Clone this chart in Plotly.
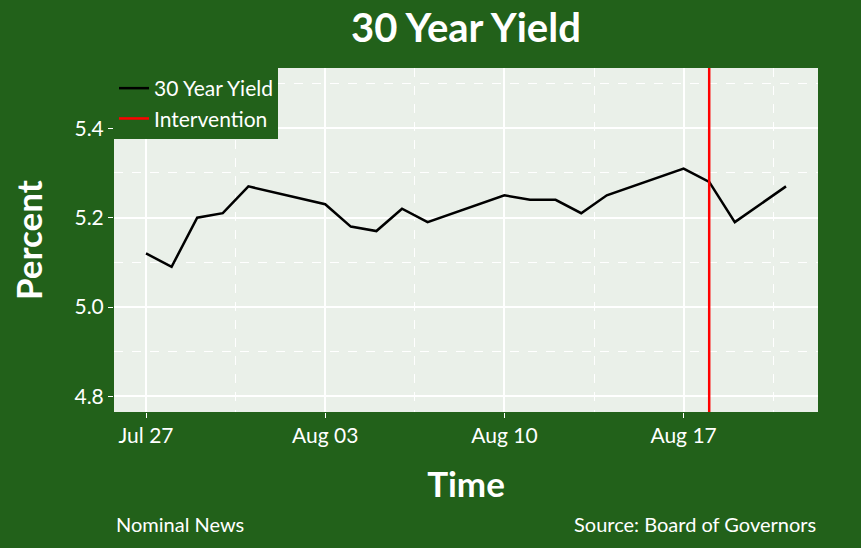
import pandas as pd
import plotly.graph_objects as go

# 30 year treasury yield, daily (business days)
dates = ["2020-07-27", "2020-07-28", "2020-07-29", "2020-07-30", "2020-07-31",
         "2020-08-03", "2020-08-04", "2020-08-05", "2020-08-06", "2020-08-07",
         "2020-08-10", "2020-08-11", "2020-08-12", "2020-08-13", "2020-08-14",
         "2020-08-17", "2020-08-18", "2020-08-19", "2020-08-21"]
yields = [5.12, 5.09, 5.20, 5.21, 5.27,
          5.23, 5.18, 5.17, 5.22, 5.19,
          5.25, 5.24, 5.24, 5.21, 5.25,
          5.31, 5.28, 5.19, 5.27]
intervention_date = "2020-08-18"
tick_dates = ["2020-07-27", "2020-08-03", "2020-08-10", "2020-08-17"]
tick_labels = ["Jul 27", "Aug 03", "Aug 10", "Aug 17"]

green = "#22611a"
panel = "#eaf0e9"
font = "Lato"

df = pd.DataFrame({"date": pd.to_datetime(dates), "yield": yields})

fig = go.Figure()
fig.add_trace(go.Scatter(x=df["date"], y=df["yield"], mode="lines",
                         name="30 Year Yield",
                         line=dict(color="black", width=2.5)))
fig.add_shape(type="line", x0=intervention_date, x1=intervention_date,
              y0=0, y1=1, yref="paper", xref="x",
              line=dict(color="red", width=2.5),
              showlegend=True, name="Intervention")

# ggplot style 5% expansion
span = df["date"].max() - df["date"].min()
xr = [df["date"].min() - span * 0.05, df["date"].max() + span * 0.05]

fig.update_layout(
    width=861, height=548,
    paper_bgcolor=green, plot_bgcolor=panel,
    margin=dict(l=114, r=43, t=68, b=136),
    font=dict(family=font, color="white", size=21),
    title=dict(text="<b>30 Year Yield</b>", x=0.5412, xanchor="center",
               y=0.948, yanchor="middle", font=dict(size=40, color="white")),
    showlegend=True,
    legend=dict(x=0, y=1, xanchor="left", yanchor="top",
                bgcolor=green, font=dict(size=21, color="white"),
                borderwidth=0, tracegroupgap=0),
    xaxis=dict(range=xr, tickvals=tick_dates, ticktext=tick_labels,
               showgrid=True, gridcolor="white", gridwidth=1.5,
               ticks="outside", ticklen=5, tickcolor="white",
               tickfont=dict(size=21), zeroline=False,
               minor=dict(showgrid=True, gridcolor="white", griddash="dash",
                          gridwidth=0.8, tick0="2020-07-27",
                          dtick=3.5 * 86400000),
               title=dict(text="<b>Time</b>", font=dict(size=35),
                          standoff=26)),
    yaxis=dict(range=[4.765, 5.535], tickvals=[4.8, 5.0, 5.2, 5.4],
               ticktext=["4.8", "5.0", "5.2", "5.4"],
               showgrid=True, gridcolor="white", gridwidth=1.5,
               ticks="outside", ticklen=5, tickcolor="white",
               tickfont=dict(size=21), zeroline=False,
               minor=dict(showgrid=True, gridcolor="white", griddash="dash",
                          gridwidth=0.8, tick0=4.9, dtick=0.2)),
)

# y title as annotation so it sits close to the edge like the original
fig.add_annotation(text="<b>Percent</b>", xref="paper", yref="paper",
                   x=-0.122, y=0.5, xanchor="center", yanchor="middle",
                   textangle=-90, showarrow=False,
                   font=dict(size=35, color="white"))
fig.add_annotation(text="Nominal News", xref="paper", yref="paper",
                   x=0, y=-0.325, xanchor="left", yanchor="middle",
                   showarrow=False, font=dict(size=20, color="white"))
fig.add_annotation(text="Source: Board of Governors", xref="paper", yref="paper",
                   x=1, y=-0.325, xanchor="right", yanchor="middle",
                   showarrow=False, font=dict(size=20, color="white"))

fig.write_html("out.html", config={"displayModeBar": False},
               post_script="document.body.style.margin='0';")
